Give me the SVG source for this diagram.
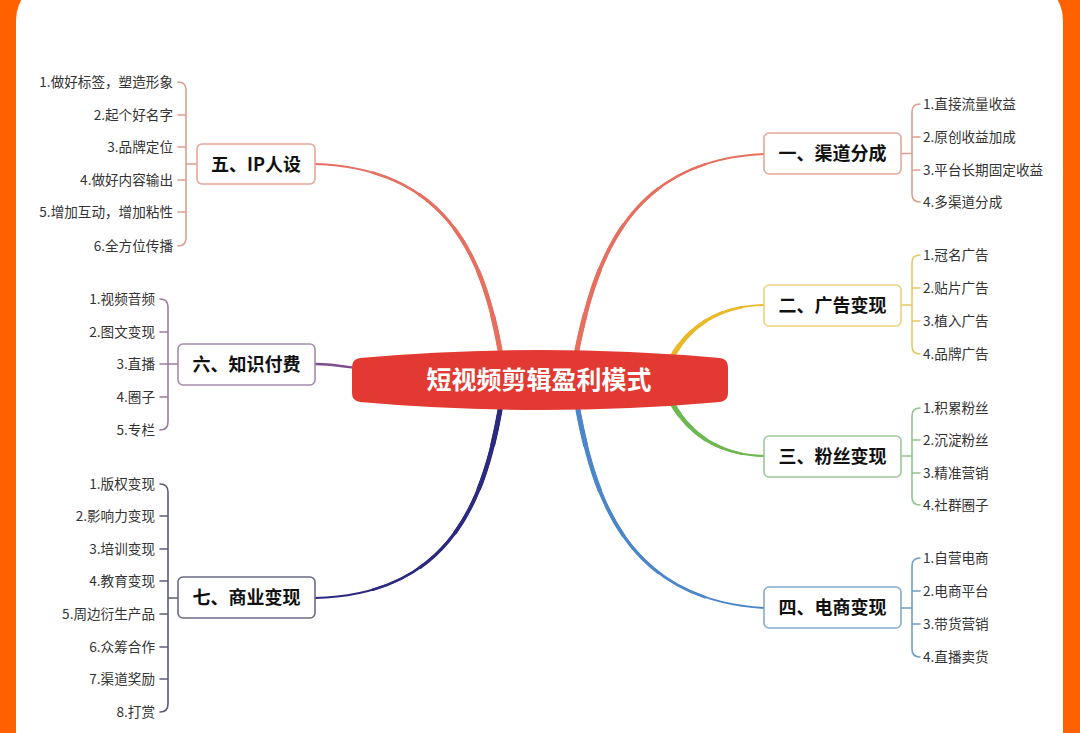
<svg xmlns="http://www.w3.org/2000/svg" width="1080" height="733" viewBox="0 0 1080 733">
<style>
.node rect{fill:#fff;stroke-width:1.6}
.nt{font-family:"Noto Sans CJK SC","Noto Sans",sans-serif;font-weight:700;font-size:18px;fill:#111;text-anchor:middle}
.lf{font-family:"Noto Sans CJK SC","Noto Sans",sans-serif;font-size:13.6px;fill:#333}
.lf.l{text-anchor:end}
.br{fill:none;stroke-width:1.6;stroke-linecap:round}
.cn{fill:none;stroke-linecap:round}
.a{stroke-width:2}
.b{stroke-width:2.6;stroke-dasharray:80 200}
.c{stroke-width:3.2;stroke-dasharray:62 200}
.d{stroke-width:3.8;stroke-dasharray:45 200}
.e{stroke-width:4.4;stroke-dasharray:28 200}
.f{stroke-width:5;stroke-dasharray:12 200}
</style>
<rect x="0" y="0" width="1080" height="733" fill="#FF6000"/>
<rect x="16" y="-20" width="1047" height="800" rx="40" fill="#fff"/>

<g id="connectors">
  <g stroke="#E66F5F">
    <path class="cn a" pathLength="100" d="M577,350 C595,262 628,160 764,154"/>
    <path class="cn b" pathLength="100" d="M577,350 C595,262 628,160 764,154"/>
    <path class="cn c" pathLength="100" d="M577,350 C595,262 628,160 764,154"/>
    <path class="cn d" pathLength="100" d="M577,350 C595,262 628,160 764,154"/>
    <path class="cn e" pathLength="100" d="M577,350 C595,262 628,160 764,154"/>
    <path class="cn f" pathLength="100" d="M577,350 C595,262 628,160 764,154"/>
  </g>
  <g stroke="#E66F5F">
    <path class="cn a" pathLength="100" d="M500,350 C484,262 450,168 315,164"/>
    <path class="cn b" pathLength="100" d="M500,350 C484,262 450,168 315,164"/>
    <path class="cn c" pathLength="100" d="M500,350 C484,262 450,168 315,164"/>
    <path class="cn d" pathLength="100" d="M500,350 C484,262 450,168 315,164"/>
    <path class="cn e" pathLength="100" d="M500,350 C484,262 450,168 315,164"/>
    <path class="cn f" pathLength="100" d="M500,350 C484,262 450,168 315,164"/>
  </g>
  <g stroke="#E9B92A">
    <path class="cn a" pathLength="100" d="M672,357 C690,325 720,306 764,305"/>
    <path class="cn b" pathLength="100" d="M672,357 C690,325 720,306 764,305"/>
    <path class="cn c" pathLength="100" d="M672,357 C690,325 720,306 764,305"/>
    <path class="cn d" pathLength="100" d="M672,357 C690,325 720,306 764,305"/>
    <path class="cn e" pathLength="100" d="M672,357 C690,325 720,306 764,305"/>
    <path class="cn f" pathLength="100" d="M672,357 C690,325 720,306 764,305"/>
  </g>
  <g stroke="#6DB84F">
    <path class="cn a" pathLength="100" d="M672,403 C690,435 720,455 764,456"/>
    <path class="cn b" pathLength="100" d="M672,403 C690,435 720,455 764,456"/>
    <path class="cn c" pathLength="100" d="M672,403 C690,435 720,455 764,456"/>
    <path class="cn d" pathLength="100" d="M672,403 C690,435 720,455 764,456"/>
    <path class="cn e" pathLength="100" d="M672,403 C690,435 720,455 764,456"/>
    <path class="cn f" pathLength="100" d="M672,403 C690,435 720,455 764,456"/>
  </g>
  <g stroke="#4B86CA">
    <path class="cn a" pathLength="100" d="M578,410 C595,500 628,600 764,608"/>
    <path class="cn b" pathLength="100" d="M578,410 C595,500 628,600 764,608"/>
    <path class="cn c" pathLength="100" d="M578,410 C595,500 628,600 764,608"/>
    <path class="cn d" pathLength="100" d="M578,410 C595,500 628,600 764,608"/>
    <path class="cn e" pathLength="100" d="M578,410 C595,500 628,600 764,608"/>
    <path class="cn f" pathLength="100" d="M578,410 C595,500 628,600 764,608"/>
  </g>
  <g stroke="#2B2A80">
    <path class="cn a" pathLength="100" d="M500,410 C484,500 450,595 315,598"/>
    <path class="cn b" pathLength="100" d="M500,410 C484,500 450,595 315,598"/>
    <path class="cn c" pathLength="100" d="M500,410 C484,500 450,595 315,598"/>
    <path class="cn d" pathLength="100" d="M500,410 C484,500 450,595 315,598"/>
    <path class="cn e" pathLength="100" d="M500,410 C484,500 450,595 315,598"/>
    <path class="cn f" pathLength="100" d="M500,410 C484,500 450,595 315,598"/>
  </g>
  <path class="cn" stroke="#7D4E8E" stroke-width="2.5" d="M315,364 C330,364 342,366 356,368"/>

  <g class="br" stroke="#DDA08F">
    <path d="M178,82 Q186,82 186,90 V238 Q186,246 178,246 M178,115 H186 M178,147 H186 M178,180 H186 M178,212 H186 M186,164 H197"/>
  </g>
  <g class="br" stroke="#9C7C9E">
    <path d="M160,299 Q168,299 168,307 V422 Q168,430 160,430 M160,332 H168 M160,364 H178 M160,397 H168"/>
  </g>
  <g class="br" stroke="#5C5C7A">
    <path d="M160,484 Q168,484 168,492 V704 Q168,712 160,712 M160,516 H168 M160,549 H168 M160,581 H168 M160,614 H168 M160,647 H168 M160,679 H168 M168,598 H178"/>
  </g>
  <g class="br" stroke="#DDA08F">
    <path d="M920,104 Q912,104 912,112 V194 Q912,202 920,202 M912,137 H920 M912,170 H920 M901,153.5 H912"/>
  </g>
  <g class="br" stroke="#E6C866">
    <path d="M920,255 Q912,255 912,263 V346 Q912,354 920,354 M912,288 H920 M912,321 H920 M901,305 H912"/>
  </g>
  <g class="br" stroke="#92C48E">
    <path d="M920,408 Q912,408 912,416 V497 Q912,505 920,505 M912,440 H920 M912,473 H920 M901,456 H912"/>
  </g>
  <g class="br" stroke="#6F9DC6">
    <path d="M920,558 Q912,558 912,566 V649 Q912,657 920,657 M912,591 H920 M912,624 H920 M901,608 H912"/>
  </g>
</g>

<g id="center">
  <path fill="#E23A33" d="M360,358 Q540,342 720,358 Q728,359 728,367 V393 Q728,401 720,402 Q540,418 360,402 Q352,401 352,393 V367 Q352,359 360,358 Z"/>
  <text x="539" y="389" font-family="'Noto Sans CJK SC','Noto Sans',sans-serif" font-weight="700" font-size="25" fill="#fff" text-anchor="middle">短视频剪辑盈利模式</text>
</g>

<g id="n1" class="node">
  <rect x="764" y="133" width="137" height="41" rx="5" stroke="#E3A898"/>
  <text class="nt" x="832.5" y="160">一、渠道分成</text>
  <text class="lf" x="923" y="108.5">1.直接流量收益</text>
  <text class="lf" x="923" y="141.5">2.原创收益加成</text>
  <text class="lf" x="923" y="174.5">3.平台长期固定收益</text>
  <text class="lf" x="923" y="206.5">4.多渠道分成</text>
</g>
<g id="n2" class="node">
  <rect x="764" y="285" width="137" height="41" rx="5" stroke="#EDD27A"/>
  <text class="nt" x="832.5" y="312">二、广告变现</text>
  <text class="lf" x="923" y="259.5">1.冠名广告</text>
  <text class="lf" x="923" y="292.5">2.贴片广告</text>
  <text class="lf" x="923" y="325.5">3.植入广告</text>
  <text class="lf" x="923" y="358.5">4.品牌广告</text>
</g>
<g id="n3" class="node">
  <rect x="764" y="436" width="137" height="41" rx="5" stroke="#9CC99A"/>
  <text class="nt" x="832.5" y="463">三、粉丝变现</text>
  <text class="lf" x="923" y="412.5">1.积累粉丝</text>
  <text class="lf" x="923" y="444.5">2.沉淀粉丝</text>
  <text class="lf" x="923" y="477.5">3.精准营销</text>
  <text class="lf" x="923" y="509.5">4.社群圈子</text>
</g>
<g id="n4" class="node">
  <rect x="764" y="587" width="137" height="41" rx="5" stroke="#85AACB"/>
  <text class="nt" x="832.5" y="614">四、电商变现</text>
  <text class="lf" x="923" y="562.5">1.自营电商</text>
  <text class="lf" x="923" y="595.5">2.电商平台</text>
  <text class="lf" x="923" y="628.5">3.带货营销</text>
  <text class="lf" x="923" y="661.5">4.直播卖货</text>
</g>
<g id="n5" class="node">
  <rect x="197" y="144" width="118" height="40" rx="5" stroke="#E3A898"/>
  <text class="nt" x="256" y="170.5">五、IP人设</text>
  <text class="lf l" x="173" y="86.5">1.做好标签，塑造形象</text>
  <text class="lf l" x="173" y="119.5">2.起个好名字</text>
  <text class="lf l" x="173" y="151.5">3.品牌定位</text>
  <text class="lf l" x="173" y="184.5">4.做好内容输出</text>
  <text class="lf l" x="173" y="216.5">5.增加互动，增加粘性</text>
  <text class="lf l" x="173" y="250.5">6.全方位传播</text>
</g>
<g id="n6" class="node">
  <rect x="178" y="344" width="137" height="41" rx="5" stroke="#A58AAA"/>
  <text class="nt" x="246.5" y="371">六、知识付费</text>
  <text class="lf l" x="155" y="303.5">1.视频音频</text>
  <text class="lf l" x="155" y="336.5">2.图文变现</text>
  <text class="lf l" x="155" y="368.5">3.直播</text>
  <text class="lf l" x="155" y="401.5">4.圈子</text>
  <text class="lf l" x="155" y="434.5">5.专栏</text>
</g>
<g id="n7" class="node">
  <rect x="178" y="577" width="137" height="41" rx="5" stroke="#6A6A86"/>
  <text class="nt" x="246.5" y="604">七、商业变现</text>
  <text class="lf l" x="155" y="488.5">1.版权变现</text>
  <text class="lf l" x="155" y="520.5">2.影响力变现</text>
  <text class="lf l" x="155" y="553.5">3.培训变现</text>
  <text class="lf l" x="155" y="585.5">4.教育变现</text>
  <text class="lf l" x="155" y="618.5">5.周边衍生产品</text>
  <text class="lf l" x="155" y="651.5">6.众筹合作</text>
  <text class="lf l" x="155" y="683.5">7.渠道奖励</text>
  <text class="lf l" x="155" y="716.5">8.打赏</text>
</g>
</svg>
